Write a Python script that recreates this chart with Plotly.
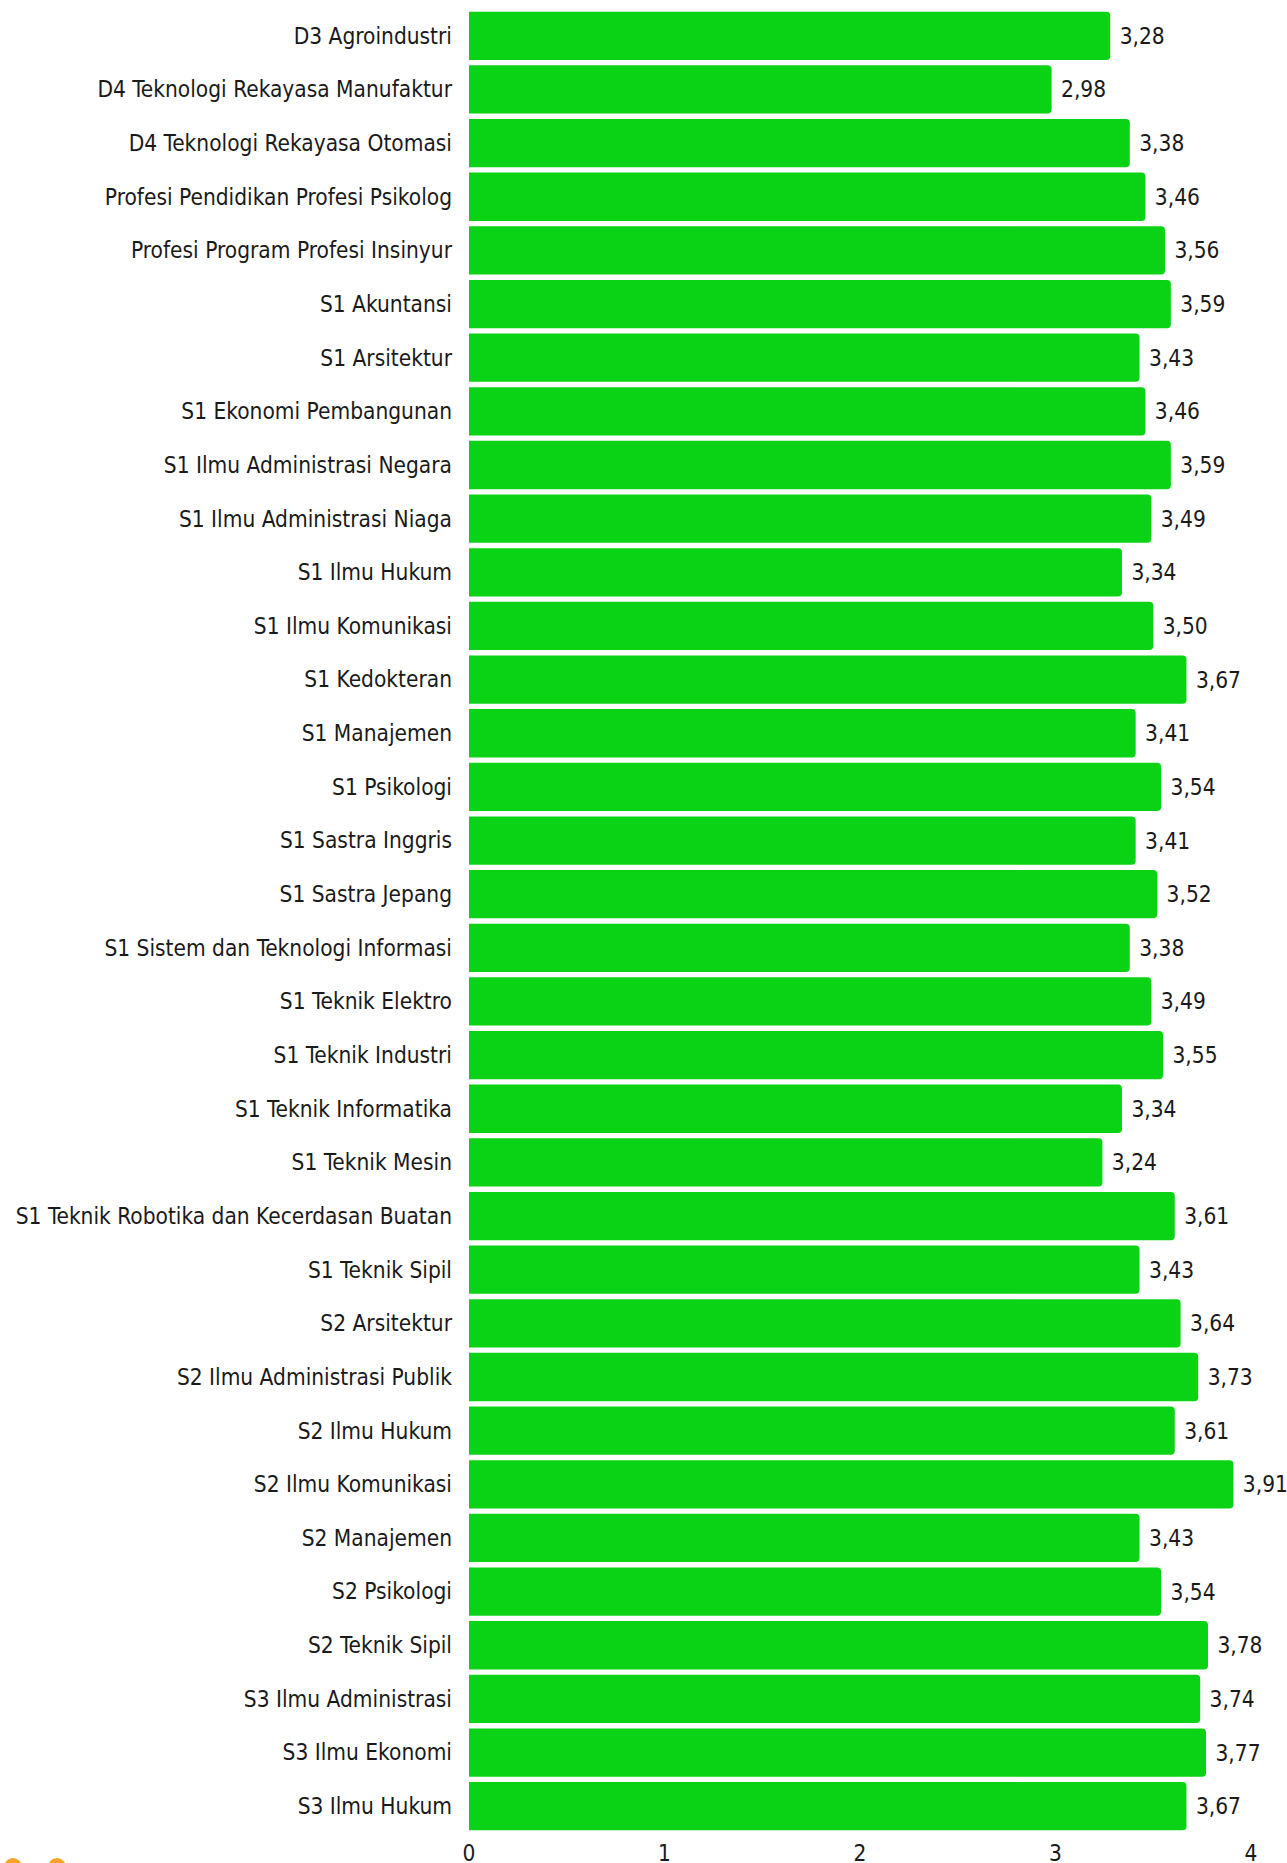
import plotly.graph_objects as go

categories = [
    "D3 Agroindustri",
    "D4 Teknologi Rekayasa Manufaktur",
    "D4 Teknologi Rekayasa Otomasi",
    "Profesi Pendidikan Profesi Psikolog",
    "Profesi Program Profesi Insinyur",
    "S1 Akuntansi",
    "S1 Arsitektur",
    "S1 Ekonomi Pembangunan",
    "S1 Ilmu Administrasi Negara",
    "S1 Ilmu Administrasi Niaga",
    "S1 Ilmu Hukum",
    "S1 Ilmu Komunikasi",
    "S1 Kedokteran",
    "S1 Manajemen",
    "S1 Psikologi",
    "S1 Sastra Inggris",
    "S1 Sastra Jepang",
    "S1 Sistem dan Teknologi Informasi",
    "S1 Teknik Elektro",
    "S1 Teknik Industri",
    "S1 Teknik Informatika",
    "S1 Teknik Mesin",
    "S1 Teknik Robotika dan Kecerdasan Buatan",
    "S1 Teknik Sipil",
    "S2 Arsitektur",
    "S2 Ilmu Administrasi Publik",
    "S2 Ilmu Hukum",
    "S2 Ilmu Komunikasi",
    "S2 Manajemen",
    "S2 Psikologi",
    "S2 Teknik Sipil",
    "S3 Ilmu Administrasi",
    "S3 Ilmu Ekonomi",
    "S3 Ilmu Hukum",
]

values = [
    3.28, 2.98, 3.38, 3.46, 3.56, 3.59, 3.43, 3.46, 3.59, 3.49,
    3.34, 3.50, 3.67, 3.41, 3.54, 3.41, 3.52, 3.38, 3.49, 3.55,
    3.34, 3.24, 3.61, 3.43, 3.64, 3.73, 3.61, 3.91, 3.43, 3.54,
    3.78, 3.74, 3.77, 3.67,
]

tick_values = [0, 1, 2, 3, 4]
tick_labels = ["0", "1", "2", "3", "4"]

value_labels = ["\u00a0" + f"{v:.2f}".replace(".", ",") for v in values]

W, H = 1287, 1863
ML, MR, MT, MB = 469, 36, 9, 30

FONT = "Liberation Sans Narrow, DejaVu Sans Condensed, Roboto, sans-serif"
FS = 22.5

fig = go.Figure(
    go.Bar(
        x=values,
        y=categories,
        orientation="h",
        marker=dict(color="#0ad315", line=dict(width=0), cornerradius=4),
        text=value_labels,
        textposition="outside",
        textfont=dict(family=FONT, size=FS, color="#1a1a1a"),
        constraintext="none",
        cliponaxis=False,
        hoverinfo="skip",
    )
)

plot_h = H - MT - MB
plot_w = W - ML - MR

# orange decorative dots (partially visible logo at bottom-left)
for px in (13, 57):
    fig.add_shape(
        type="circle",
        xref="paper", yref="paper",
        xsizemode="pixel", ysizemode="pixel",
        xanchor=(px - ML) / plot_w,
        yanchor=-(1867 - (H - MB)) / plot_h,
        x0=-9, x1=9, y0=-9, y1=9,
        fillcolor="#f9a329",
        line=dict(width=0),
        layer="above",
    )

fig.update_layout(
    width=W,
    height=H,
    margin=dict(l=ML, r=MR, t=MT, b=MB, pad=0, autoexpand=False),
    paper_bgcolor="white",
    plot_bgcolor="white",
    bargap=0.1,
    showlegend=False,
    font=dict(family=FONT, size=FS, color="#1a1a1a"),
    xaxis=dict(
        range=[0, 4],
        tickvals=tick_values,
        ticktext=tick_labels,
        showgrid=False,
        zeroline=False,
        showline=False,
        ticks="",
        automargin=False,
        ticklabelstandoff=4,
        tickfont=dict(family=FONT, size=FS, color="#1a1a1a"),
    ),
    yaxis=dict(
        autorange="reversed",
        showgrid=False,
        zeroline=False,
        showline=False,
        ticks="",
        automargin=False,
        ticklabelstandoff=16,
        tickfont=dict(family=FONT, size=FS, color="#1a1a1a"),
    ),
)

fig.write_html(
    "out.html",
    config={"displayModeBar": False},
    post_script="document.body.style.margin='0';document.body.style.overflow='hidden';",
)
